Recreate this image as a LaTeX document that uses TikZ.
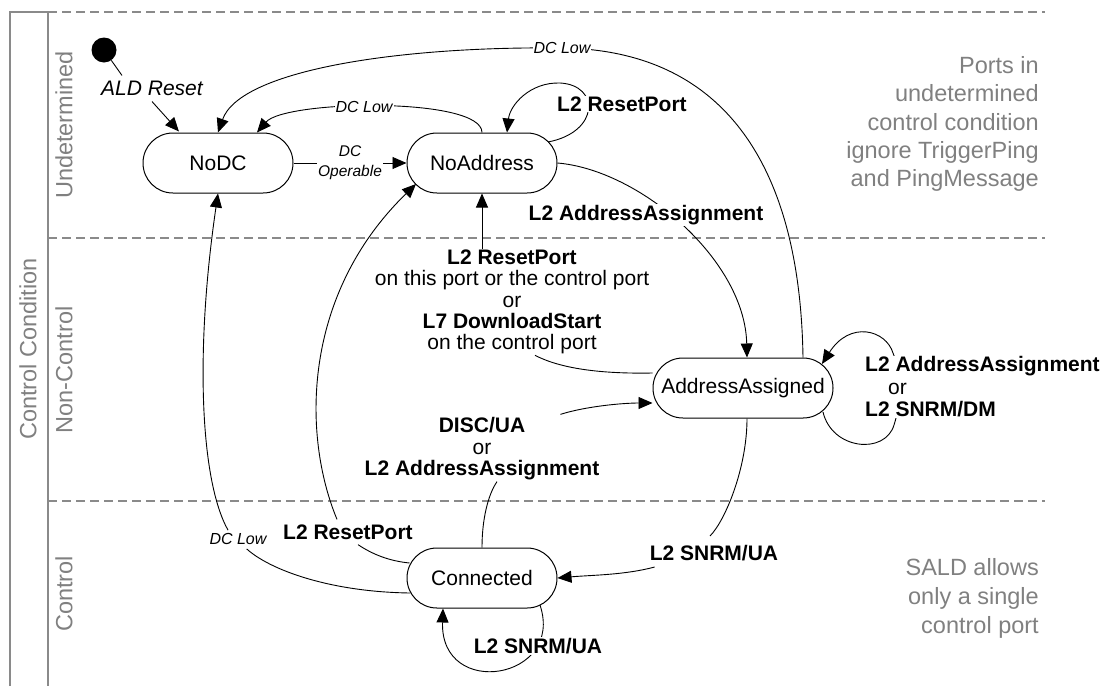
\documentclass[tikz,border=0pt]{standalone}
\usepackage{fontspec}
\setmainfont{Liberation Sans}
\usetikzlibrary{arrows.meta,calc}
\definecolor{lanetext}{HTML}{808080}
\definecolor{laneline}{HTML}{8A8A8A}
\begin{document}
\begin{tikzpicture}[x=1pt,y=-1pt,
  state/.style={draw, line width=1pt, rounded corners=29.9pt, minimum height=60pt, inner sep=0pt, font=\fontsize{21}{21}\selectfont},
  conn/.style={line width=0.9pt},
  arr/.style={line width=0.9pt, -{Triangle[length=14pt,width=12pt]}},
  blbl/.style={font=\bfseries\fontsize{21}{21}\selectfont, inner sep=1pt, fill=white},
  tlbl/.style={font=\fontsize{21}{21.3}\selectfont, inner sep=1pt, fill=white, align=center},
  ilbl/.style={font=\itshape\fontsize{16}{20}\selectfont, inner sep=1pt, fill=white, align=center},
  lanelbl/.style={text=lanetext, font=\fontsize{23.5}{28.3}\selectfont, inner sep=0pt},
  laneborder/.style={draw=laneline, line width=1.8pt},
  sepline/.style={draw=laneline, line width=1.6pt, dash pattern=on 9pt off 5pt}
]
\useasboundingbox (0,0) rectangle (1104,686);
% lanes
\draw[laneborder] (10,686) -- (10,12) -- (48,12);
\draw[laneborder] (48,12) -- (48,686);
\draw[sepline] (48,12) -- (1045,12);
\draw[sepline] (48,238) -- (1045,238);
\draw[sepline] (48,501) -- (1045,501);
\node[lanelbl, rotate=90] (cc) at (28,349) {Control Condition};
\node[lanelbl, rotate=90] (und) at (64,125) {Undetermined};
\node[lanelbl, rotate=90] (nc) at (64,370) {Non-Control};
\node[lanelbl, rotate=90] (ctl) at (64,594) {Control};
\node[lanelbl, align=right, anchor=east] (note1) at (1039,124) {Ports in\\undetermined\\control condition\\ignore TriggerPing\\and PingMessage};
\node[lanelbl, align=right, anchor=east, font=\fontsize{23.5}{29}\selectfont] (note2) at (1039,598) {SALD allows\\only a single\\control port};
% states
\node[circle, fill, inner sep=0pt, minimum size=25pt] (init) at (104,50) {};
\node[state, minimum width=150pt] (nodc) at (218,163) {NoDC};
\node[state, minimum width=150pt] (noaddr) at (482,163) {NoAddress};
\node[state, minimum width=180pt] (aa) at (743,388) {AddressAssigned};
\node[state, minimum width=150pt] (con) at (482,578) {Connected};
% initial
\node[font=\itshape\fontsize{21}{21}\selectfont, inner sep=1pt] (ald) at (152,88) {ALD Reset};
\draw[conn] (init) -- ($(ald.north)+(-30,-4)$);
\draw[arr] ($(ald.south)+(0,5)$) -- ($(nodc.north)+(-39,-1)$);
% DC Operable
\draw[arr] (nodc.east) -- node[ilbl, font=\itshape\fontsize{15.5}{20}\selectfont]{DC\\Operable} (noaddr.west);
% inner DC Low
\draw[arr] (noaddr.north) .. controls +(0,-36) and (285,100) .. node[ilbl,pos=0.55]{DC Low} ($(nodc.north)+(39,0)$);
% outer DC Low
\draw[arr] ($(aa.north)+(60,0)$) .. controls (800,160) and (720,50) .. (562,48) node[ilbl]{DC Low} .. controls (400,46) and (240,70) .. (nodc.north);
% NoAddress self loop
\draw[arr] ($(noaddr.center)+(66,-21)$) .. controls (600,132) and (600,85) .. (560,83) .. controls (530,82) and (510,105) .. ($(noaddr.north)+(25,0)$);
\node[blbl] (lrp1) at (622,104) {L2 ResetPort};
% NoAddress -> AddressAssigned
\draw[arr] (noaddr.east) .. controls (640,170) and (745,260) .. ($(aa.north)+(4,0)$);
\node[blbl] (laa1) at (646,215) {L2 AddressAssignment};
% AddressAssigned -> NoAddress
\node[tlbl] (rp) at (512,302) {\textbf{L2 ResetPort}\\on this port or the control port\\or\\\textbf{L7 DownloadStart}\\on the control port};
\draw[conn] ($(aa.west)+(0,-15)$) .. controls +(-53,1) and +(25,13) .. ($(rp.south)+(23,0)$);
\draw[arr] ($(rp.north)+(-30,0)$) -- (noaddr.south);
% Connected -> AddressAssigned
\node[tlbl, font=\fontsize{21}{21.6}\selectfont] (disc) at (482,449) {\textbf{DISC/UA}\\or\\\textbf{L2 AddressAssignment}};
\draw[conn] (con.north) .. controls +(0,-28) and +(-9,13) .. ($(disc.south)+(15,0)$);
\draw[arr] ($(disc.north east)+(-40,-2)$) .. controls +(25,-8) and +(-30,0) .. ($(aa.west)+(0,15)$);
% Connected -> NoAddress
\node[blbl] (rpc) at (348,532) {L2 ResetPort};
\draw[conn] ($(con.west)+(3,-15)$) .. controls +(-20,-2) and +(15,10) .. ($(rpc.south)+(10,4)$);
\draw[arr] ($(rpc.north)+(-11,-4)$) .. controls (302,435) and (302,295) .. ($(noaddr.center)+(-66,21)$);
% Connected -> NoDC
\node[ilbl] (dcl) at (238,539) {DC Low};
\draw[conn] ($(con.west)+(4,15)$) .. controls (330,592) and (270,570) .. ($(dcl.south east)+(-21,3)$);
\draw[arr] ($(dcl.north)+(-10,-2)$) .. controls (200,480) and (195,350) .. (nodc.south);
% AddressAssigned -> Connected
\node[blbl] (sn1) at (714,553) {L2 SNRM/UA};
\draw[conn] ($(aa.south)+(4,0)$) .. controls +(0,50) and +(15,-15) .. ($(sn1.north)+(-4,-8)$);
\draw[arr] ($(sn1.south west)+(6,5)$) .. controls +(-30,8) and +(35,-3) .. (con.east);
% Connected self loop
\draw[arr] ($(con.center)+(58,27)$) .. controls (565,680) and (440,700) .. ($(con.south)+(-39,0)$);
\node[blbl] (sn2) at (538,646) {L2 SNRM/UA};
% AddressAssigned self loop
\draw[arr] ($(aa.center)+(80,24)$) .. controls (832,450) and (885,455) .. (894,425) .. controls (902,400) and (902,375) .. (893,353) .. controls (886,330) and (850,320) .. ($(aa.center)+(79,-24)$);
\node[tlbl, align=left, anchor=west, font=\fontsize{21}{22.5}\selectfont] (aal) at (864,387) {\textbf{L2 AddressAssignment}\\\hspace*{23pt}or\\\textbf{L2 SNRM/DM}};
\end{tikzpicture}
\end{document}
